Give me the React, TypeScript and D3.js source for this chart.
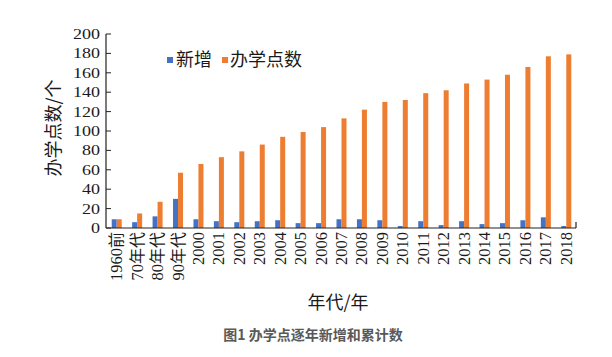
import React from "react";
import * as d3 from "d3";

const categories = ["1960前","70年代","80年代","90年代","2000","2001","2002","2003","2004","2005","2006","2007","2008","2009","2010","2011","2012","2013","2014","2015","2016","2017","2018"];
const newAdded = [9,6,12,30,9,7,6,7,8,5,5,9,9,8,2,7,3,7,4,5,8,11,2];
const cumulative = [9,15,27,57,66,73,79,86,94,99,104,113,122,130,132,139,142,149,153,158,166,177,179];
const yTicks = [0,20,40,60,80,100,120,140,160,180,200];
const seriesNames = ["新增","办学点数"];
const colors = ["#4472C4","#ED7D31"];

const W = 612, H = 357;
const left = 106, right = 576, top = 34, bottom = 228;

const serif = "'Liberation Serif', 'DejaVu Serif', serif";
const cjk = "'Noto Sans CJK SC', 'Noto Sans', sans-serif";

export default function App() {
  const x = d3.scaleBand<string>().domain(categories).range([left, right]).padding(0);
  const y = d3.scaleLinear().domain([0, 200]).range([bottom, top]);
  const bw = 5;

  const splitLabel = (s: string) => {
    const m = s.match(/^(\d+)(.*)$/);
    return m ? [m[1], m[2]] : [s, ""];
  };

  return (
    <svg width={W} height={H} style={{ position: "absolute", left: 0, top: 0, background: "#fff" }}>
      <rect x={0} y={0} width={W} height={H} fill="#fff" />
      {categories.map((c, i) => {
        const cx = (x(c) as number) + x.bandwidth() / 2 + 0.5;
        return (
          <g key={c}>
            <rect x={cx - bw} y={y(newAdded[i])} width={bw} height={bottom - y(newAdded[i])} fill={colors[0]} />
            <rect x={cx} y={y(cumulative[i])} width={bw} height={bottom - y(cumulative[i])} fill={colors[1]} />
          </g>
        );
      })}
      <line x1={left} x2={left} y1={top} y2={bottom} stroke="#222" strokeWidth={1.2} />
      <line x1={left} x2={right} y1={bottom} y2={bottom} stroke="#222" strokeWidth={1.2} />
      <line x1={right} x2={right} y1={bottom - 6} y2={bottom} stroke="#222" strokeWidth={1.2} />
      {yTicks.map((t) => (
        <g key={t}>
          <line x1={left} x2={left + 5} y1={y(t)} y2={y(t)} stroke="#222" strokeWidth={1} />
          <text
            transform={`translate(100,${y(t) + 5}) scale(1.2,1)`}
            textAnchor="end"
            fontFamily={serif}
            fontSize={15}
            fill="#1a1a1a"
          >
            {t}
          </text>
        </g>
      ))}
      {categories.map((c) => {
        const cx = (x(c) as number) + x.bandwidth() / 2;
        const [num, rest] = splitLabel(c);
        return (
          <text
            key={c}
            transform={`translate(${cx + 6},232) rotate(-90)`}
            textAnchor="end"
            fontFamily={serif}
            fontSize={16.5}
            fill="#1a1a1a"
          >
            {num}
            {rest && <tspan fontFamily={cjk} fontSize={16}>{rest}</tspan>}
          </text>
        );
      })}
      <text
        transform="translate(60,128) rotate(-90)"
        textAnchor="middle"
        fontFamily={cjk}
        fontSize={18}
        fill="#1a1a1a"
      >
        办学点数/个
      </text>
      <text x={338} y={309} textAnchor="middle" fontFamily={cjk} fontSize={18} fill="#1a1a1a">
        年代/年
      </text>
      <rect x={167} y={57} width={6} height={6} fill={colors[0]} />
      <text x={176} y={66} fontFamily={cjk} fontSize={18} fill="#1a1a1a">{seriesNames[0]}</text>
      <rect x={222} y={57} width={6} height={6} fill={colors[1]} />
      <text x={230} y={66} fontFamily={cjk} fontSize={18} fill="#1a1a1a">{seriesNames[1]}</text>
      <text x={313} y={340} textAnchor="middle" fontFamily={cjk} fontSize={14} fontWeight="bold" fill="#595959">
        图1 办学点逐年新增和累计数
      </text>
    </svg>
  );
}
